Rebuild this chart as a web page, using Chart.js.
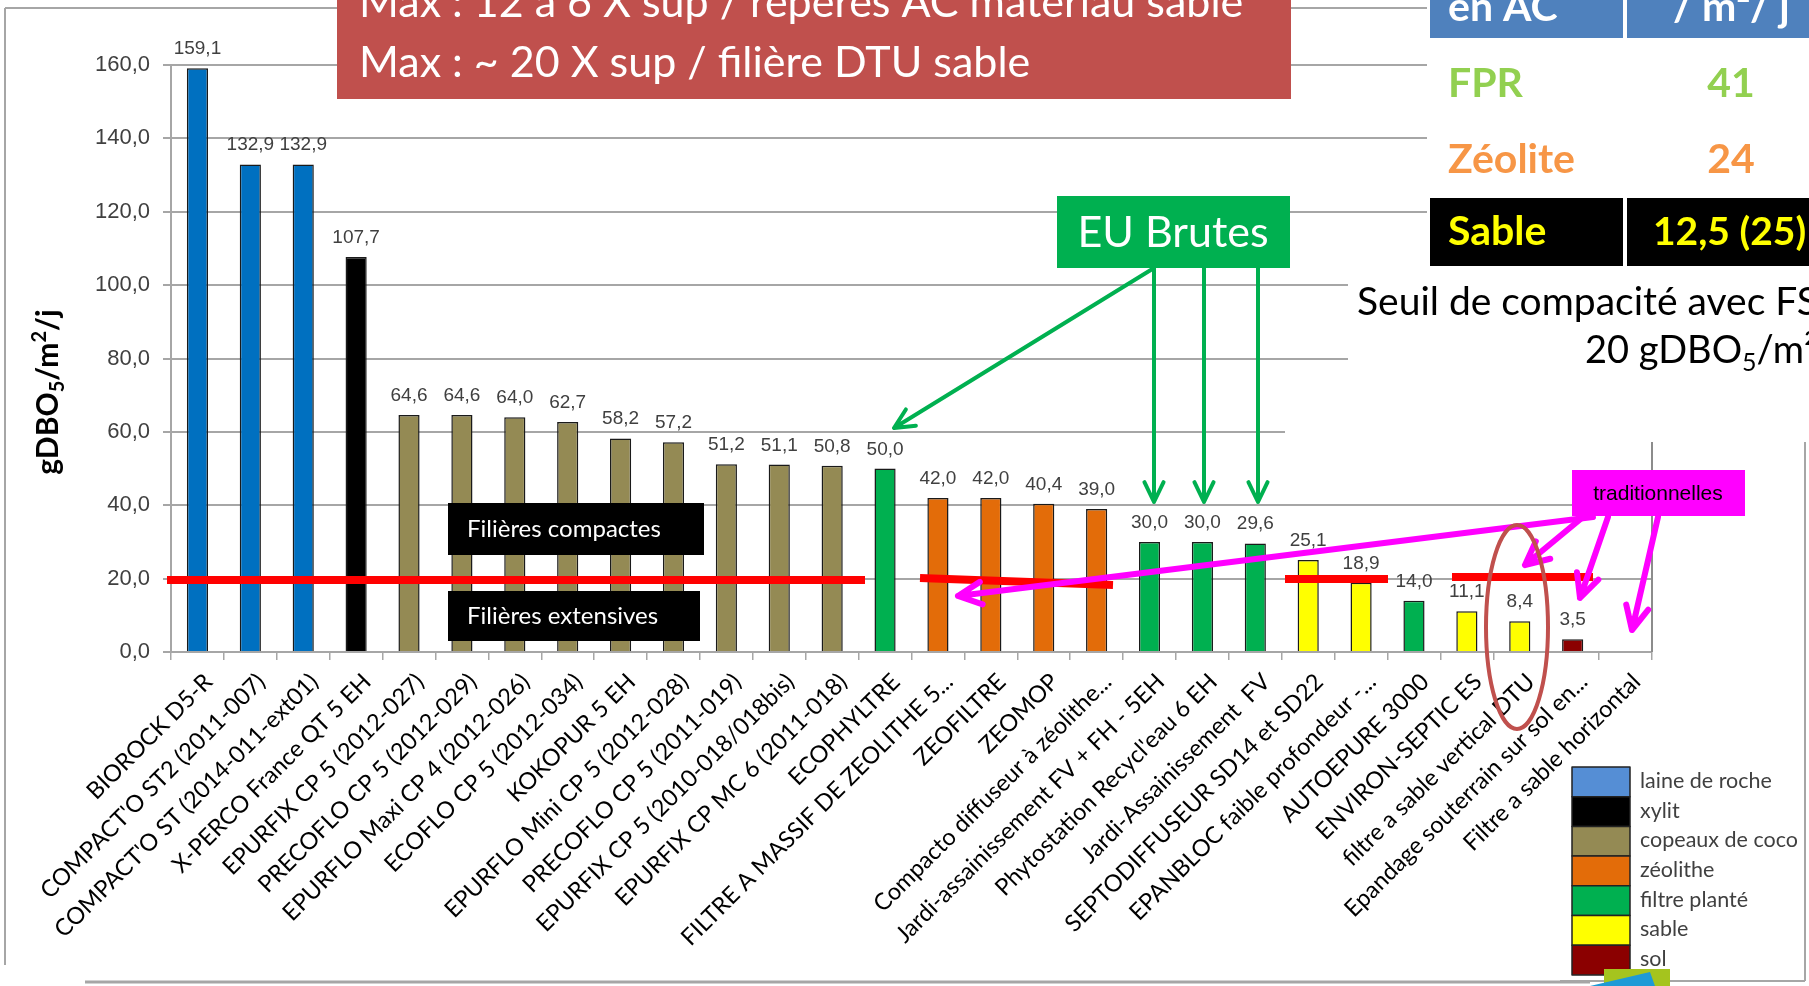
<!DOCTYPE html>
<html lang="fr">
<head>
<meta charset="utf-8">
<title>Charge surfacique en gDBO5/m²/j par filière</title>
<script src="https://cdn.jsdelivr.net/npm/chart.js@4.4.1/dist/chart.umd.min.js"></script>
<style>
  html, body { margin: 0; padding: 0; background: #fff; overflow: hidden; }
  #graphe { display: block; }
</style>
</head>
<body>
<canvas id="graphe" width="1809" height="986"></canvas>
<script>
// Filières (axe x)
const filieres = [
  'BIOROCK D5-R',
  "COMPACT'O ST2 (2011-007)",
  "COMPACT'O ST (2014-011-ext01)",
  'X-PERCO France QT 5 EH',
  'EPURFIX CP 5 (2012-027)',
  'PRECOFLO CP 5 (2012-029)',
  'EPURFLO Maxi CP 4 (2012-026)',
  'ECOFLO CP 5 (2012-034)',
  'KOKOPUR 5 EH',
  'EPURFLO Mini CP 5 (2012-028)',
  'PRECOFLO CP 5 (2011-019)',
  'EPURFIX CP 5 (2010-018/018bis)',
  'EPURFIX CP MC 6 (2011-018)',
  'ECOPHYLTRE',
  'FILTRE A MASSIF DE ZEOLITHE 5...',
  'ZEOFILTRE',
  'ZEOMOP',
  'Compacto diffuseur à zéolithe...',
  'Jardi-assainissement FV + FH - 5EH',
  "Phytostation Recycl'eau 6 EH",
  'Jardi-Assainissement  FV',
  'SEPTODIFFUSEUR SD14 et SD22',
  'EPANBLOC faible profondeur -...',
  'AUTOEPURE 3000',
  'ENVIRON-SEPTIC ES',
  'filtre a sable vertical DTU',
  'Epandage souterrain sur sol en...',
  'Filtre a sable horizontal'
];

// Charge en gDBO5/m²/j
const valeurs = [159.1, 132.9, 132.9, 107.7, 64.6, 64.6, 64.0, 62.7, 58.2, 57.2, 51.2, 51.1, 50.8, 50.0,
  42.0, 42.0, 40.4, 39.0, 30.0, 30.0, 29.6, 25.1, 18.9, 14.0, 11.1, 8.4, 3.5, null];

// Matériau filtrant de chaque filière
const materiaux = ['laine de roche', 'laine de roche', 'laine de roche', 'xylit',
  'copeaux de coco', 'copeaux de coco', 'copeaux de coco', 'copeaux de coco', 'copeaux de coco',
  'copeaux de coco', 'copeaux de coco', 'copeaux de coco', 'copeaux de coco',
  'filtre planté', 'zéolithe', 'zéolithe', 'zéolithe', 'zéolithe',
  'filtre planté', 'filtre planté', 'filtre planté', 'sable', 'sable', 'filtre planté',
  'sable', 'sable', 'sol', 'sable'];

// Légende
const legendeNoms = ['laine de roche', 'xylit', 'copeaux de coco', 'zéolithe', 'filtre planté', 'sable', 'sol'];
const legendeCouleurs = ['#558ed5', '#000000', '#948a54', '#e36c09', '#00b050', '#ffff00', '#8b0000'];
const couleurBarre = {
  'laine de roche': '#0070c0', 'xylit': '#000000', 'copeaux de coco': '#948a54', 'zéolithe': '#e36c09',
  'filtre planté': '#00b050', 'sable': '#ffff00', 'sol': '#8b0000'
};

// Tableau repères AC
const tableauLignes = ['FPR', 'Zéolite', 'Sable'];
const tableauValeurs = ['41', '24', '12,5 (25)'];

const LATO = 'Lato, "Noto Sans", sans-serif';
const ARIAL = '"Liberation Sans", Arial, sans-serif';

function texte(ctx, s, x, y, font, couleur, align) {
  ctx.font = font;
  ctx.fillStyle = couleur;
  ctx.textAlign = align || 'left';
  ctx.textBaseline = 'alphabetic';
  ctx.fillText(s, x, y);
}

// texte avec indices / exposants : [texte, taille, décalage vertical]
function texteRiche(ctx, morceaux, x, y, poids, couleur, align) {
  let total = 0;
  morceaux.forEach(m => { ctx.font = poids + ' ' + m[1] + 'px ' + LATO; total += ctx.measureText(m[0]).width; });
  let cx = align === 'center' ? x - total / 2 : x;
  ctx.fillStyle = couleur;
  ctx.textAlign = 'left';
  ctx.textBaseline = 'alphabetic';
  morceaux.forEach(m => {
    ctx.font = poids + ' ' + m[1] + 'px ' + LATO;
    ctx.fillText(m[0], cx, y + m[2]);
    cx += ctx.measureText(m[0]).width;
  });
}

function rect(ctx, x, y, w, h, couleur) {
  ctx.fillStyle = couleur;
  ctx.fillRect(x, y, w, h);
}

function trait(ctx, x1, y1, x2, y2, couleur, ep) {
  ctx.strokeStyle = couleur;
  ctx.lineWidth = ep;
  ctx.lineCap = 'butt';
  ctx.beginPath();
  ctx.moveTo(x1, y1);
  ctx.lineTo(x2, y2);
  ctx.stroke();
}

function fleche(ctx, x1, y1, x2, y2, couleur, ep, tete) {
  const a = Math.atan2(y2 - y1, x2 - x1);
  ctx.strokeStyle = couleur;
  ctx.lineWidth = ep;
  ctx.lineCap = 'round';
  ctx.lineJoin = 'round';
  ctx.beginPath();
  ctx.moveTo(x1, y1);
  ctx.lineTo(x2, y2);
  ctx.moveTo(x2 - tete * Math.cos(a - 0.45), y2 - tete * Math.sin(a - 0.45));
  ctx.lineTo(x2, y2);
  ctx.lineTo(x2 - tete * Math.cos(a + 0.45), y2 - tete * Math.sin(a + 0.45));
  ctx.stroke();
}

const habillage = {
  id: 'habillage',
  afterDatasetsDraw(chart) {
    // étiquettes de valeurs au-dessus des barres
    const ctx = chart.ctx;
    const meta = chart.getDatasetMeta(0);
    ctx.save();
    meta.data.forEach((barre, i) => {
      if (valeurs[i] == null) return;
      texte(ctx, valeurs[i].toFixed(1).replace('.', ','), barre.x, barre.y - 14, '19px ' + ARIAL, '#404040', 'center');
    });
    ctx.restore();
  },
  afterDraw(chart) {
    const ctx = chart.ctx;
    const zone = chart.chartArea;
    ctx.save();

    // bord droit de la zone de traçage
    trait(ctx, zone.right, zone.top, zone.right, zone.bottom, '#8c8c8c', 2);

    // cadres blancs posés sur le graphique
    rect(ctx, 1427, 0, 382, 268, '#ffffff');
    rect(ctx, 1348, 268, 461, 174, '#ffffff');
    rect(ctx, 1285, 395, 70, 47, '#ffffff');

    // cadre extérieur
    trait(ctx, 5, 8, 5, 965, '#a6a6a6', 2);
    trait(ctx, 5, 8, 1427, 8, '#a6a6a6', 2);
    trait(ctx, 1805, 442, 1805, 981, '#a6a6a6', 2);
    trait(ctx, 1560, 981, 1805, 981, '#a6a6a6', 2);
    trait(ctx, 85, 982, 1590, 982, '#a6a6a6', 3);

    // titre de l'axe y
    ctx.save();
    ctx.translate(58, 392);
    ctx.rotate(-Math.PI / 2);
    texteRiche(ctx, [['gDBO', 30, 0], ['5', 20, 6], ['/m', 30, 0], ['2', 20, -12], ['/j', 30, 0]], 0, 0, 'bold', '#000', 'center');
    ctx.restore();

    // encadré rouge du haut
    rect(ctx, 337, 0, 954, 99, '#c0504d');
    texte(ctx, 'Max : 12 à 6 X sup / repères AC matériau sable', 359, 17, '43px ' + LATO, '#ffffff');
    texte(ctx, 'Max : ~ 20 X sup / filière DTU sable', 359, 77, '43px ' + LATO, '#ffffff');

    // tableau repères AC
    rect(ctx, 1430, 0, 193, 38, '#4f81bd');
    rect(ctx, 1627, 0, 182, 38, '#4f81bd');
    texte(ctx, 'en AC', 1448, 21, 'bold 41px ' + LATO, '#ffffff');
    texte(ctx, '/ m²/ j', 1673, 21, 'bold 41px ' + LATO, '#ffffff');
    rect(ctx, 1430, 198, 193, 68, '#000000');
    rect(ctx, 1627, 198, 182, 68, '#000000');
    const couleursTableau = ['#92d050', '#f79646', '#ffff00'];
    const lignesY = [97, 173, 245];
    tableauLignes.forEach((nom, i) => {
      texte(ctx, nom, 1448, lignesY[i], 'bold 41px ' + LATO, couleursTableau[i]);
      if (i < 2) texte(ctx, tableauValeurs[i], 1731, lignesY[i], 'bold 41px ' + LATO, couleursTableau[i], 'center');
      else texte(ctx, tableauValeurs[i], 1653, lignesY[i], 'bold 39px ' + LATO, couleursTableau[i]);
    });

    // seuil de compacité
    texte(ctx, 'Seuil de compacité avec FS', 1357, 315, '39px ' + LATO, '#000000');
    texteRiche(ctx, [['20 gDBO', 38, 0], ['5', 25, 8], ['/m²', 38, 0]], 1585, 363, 'normal', '#000000');

    // EU Brutes
    rect(ctx, 1057, 196, 233, 72, '#00b050');
    texte(ctx, 'EU Brutes', 1173, 247, '43px ' + LATO, '#ffffff', 'center');
    fleche(ctx, 1154, 268, 894, 428, '#00b050', 4, 22);
    fleche(ctx, 1154, 268, 1154, 502, '#00b050', 4, 22);
    fleche(ctx, 1204, 268, 1204, 502, '#00b050', 4, 22);
    fleche(ctx, 1258, 268, 1258, 502, '#00b050', 4, 22);

    // seuils à 20 gDBO5/m²/j
    trait(ctx, 167, 580, 865, 580, '#ff0000', 8);
    trait(ctx, 920, 578, 1113, 585, '#ff0000', 8);
    trait(ctx, 1285, 579, 1388, 579, '#ff0000', 8);
    trait(ctx, 1452, 577, 1593, 577, '#ff0000', 8);

    // filières compactes / extensives
    rect(ctx, 448, 503, 256, 52, '#000000');
    texte(ctx, 'Filières compactes', 467, 537, '24px ' + LATO, '#ffffff');
    rect(ctx, 448, 591, 252, 50, '#000000');
    texte(ctx, 'Filières extensives', 467, 624, '24px ' + LATO, '#ffffff');

    // traditionnelles
    fleche(ctx, 1593, 517, 958, 596, '#ff00ff', 6, 26);
    fleche(ctx, 1583, 517, 1525, 565, '#ff00ff', 6, 26);
    fleche(ctx, 1608, 517, 1580, 598, '#ff00ff', 6, 26);
    fleche(ctx, 1658, 517, 1632, 630, '#ff00ff', 6, 26);
    rect(ctx, 1572, 470, 173, 46, '#ff00ff');
    texte(ctx, 'traditionnelles', 1658, 500, '21px ' + ARIAL, '#000000', 'center');

    // ellipse autour de la filière DTU
    ctx.strokeStyle = '#c0504d';
    ctx.lineWidth = 4;
    ctx.beginPath();
    ctx.ellipse(1517, 627, 31, 102, 0, 0, Math.PI * 2);
    ctx.stroke();

    // légende
    rect(ctx, 1562, 755, 242, 225, '#ffffff');
    const hLigne = 29.7;
    legendeNoms.forEach((nom, i) => {
      const y = 767 + i * hLigne;
      rect(ctx, 1572, y, 58, hLigne, legendeCouleurs[i]);
      ctx.strokeStyle = '#222222';
      ctx.lineWidth = 1.5;
      ctx.strokeRect(1572, y, 58, hLigne);
      texte(ctx, nom, 1640, y + hLigne / 2 + 6, '21.5px ' + LATO, '#404040');
    });

    // petit logo en bas
    rect(ctx, 1604, 969, 66, 17, '#a5c41e');
    ctx.fillStyle = '#1e9ad6';
    ctx.beginPath();
    ctx.moveTo(1590, 986); ctx.lineTo(1650, 972); ctx.lineTo(1655, 986); ctx.closePath();
    ctx.fill();

    ctx.restore();
  }
};

const ctx = document.getElementById('graphe').getContext('2d');

new Chart(ctx, {
  type: 'bar',
  data: {
    labels: filieres,
    datasets: [{
      data: valeurs,
      backgroundColor: materiaux.map(m => couleurBarre[m]),
      borderColor: '#1a1a1a',
      borderWidth: 1.5,
      barPercentage: 0.4,
      categoryPercentage: 1
    }]
  },
  options: {
    responsive: false,
    animation: false,
    devicePixelRatio: 1,
    layout: { padding: { top: 65, right: 157, left: 0, bottom: 0 } },
    plugins: {
      legend: { display: false },
      tooltip: { enabled: false }
    },
    scales: {
      x: {
        afterFit: s => { s.height = 334; },
        grid: { drawOnChartArea: false, color: '#a6a6a6', lineWidth: 1.5, tickLength: 8, offset: true },
        border: { color: '#a6a6a6', width: 2 },
        ticks: {
          autoSkip: false, maxRotation: 45, minRotation: 45, padding: 8, labelOffset: 11,
          color: '#000000', font: { family: LATO, size: 23.5 }
        }
      },
      y: {
        min: 0,
        max: 160,
        afterFit: s => { s.width = 171; },
        grid: { color: '#a6a6a6', lineWidth: 2, tickLength: 8 },
        border: { color: '#a6a6a6', width: 2 },
        ticks: {
          stepSize: 20, padding: 13, color: '#404040',
          font: { family: ARIAL, size: 22 },
          callback: v => v.toFixed(1).replace('.', ',')
        }
      }
    }
  },
  plugins: [habillage]
});
</script>
</body>
</html>
